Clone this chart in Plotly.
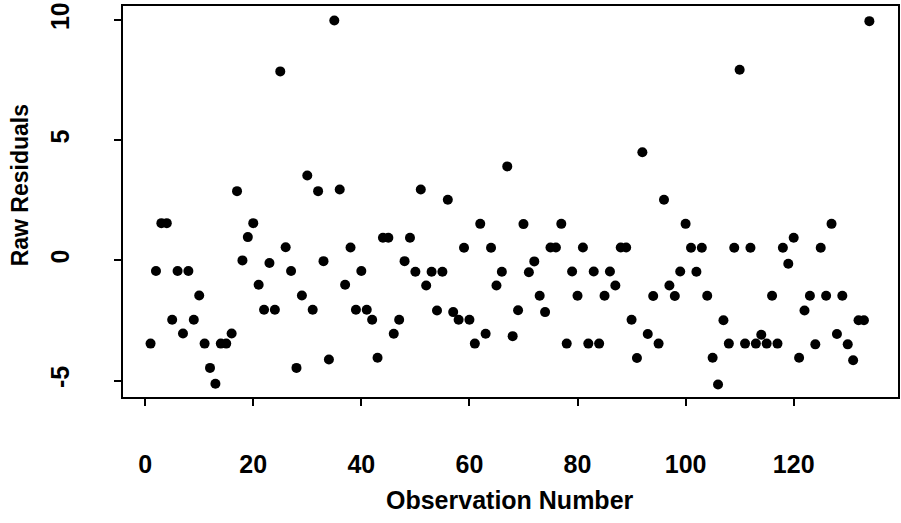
import plotly.graph_objects as go

# Residuals per observation (observation number = position, starting at 1)
residuals = [
    -3.46, -0.44, 1.55, 1.55, -2.47, -0.44, -3.04, -0.44, -2.47, -1.46,
    -3.46, -4.47, -5.13, -3.46, -3.46, -3.04, 2.88, 0.00, 0.97, 1.55,
    -1.01, -2.05, -0.11, -2.05, 7.86, 0.55, -0.44, -4.47, -1.46, 3.53,
    -2.05, 2.88, -0.03, -4.12, 9.98, 2.95, -1.01, 0.54, -2.05, -0.44,
    -2.05, -2.47, -4.05, 0.94, 0.94, -3.05, -2.47, -0.03, 0.94, -0.47,
    2.95, -1.04, -0.47, -2.08, -0.47, 2.52, -2.15, -2.47, 0.53, -2.47,
    -3.46, 1.52, -3.05, 0.53, -1.04, -0.47, 3.91, -3.15, -2.07, 1.51,
    -0.49, -0.04, -1.47, -2.15, 0.54, 0.54, 1.52, -3.46, -0.46, -1.47,
    0.54, -3.46, -0.46, -3.46, -1.47, -0.46, -1.04, 0.54, 0.54, -2.47,
    -4.06, 4.50, -3.06, -1.48, -3.46, 2.52, -1.04, -1.48, -0.46, 1.52,
    0.53, -0.47, 0.53, -1.47, -4.05, -5.16, -2.49, -3.46, 0.53, 7.93,
    -3.46, 0.53, -3.46, -3.09, -3.46, -1.47, -3.46, 0.53, -0.14, 0.94,
    -4.05, -2.08, -1.47, -3.49, 0.53, -1.47, 1.52, -3.06, -1.47, -3.49,
    -4.15, -2.49, -2.49, 9.95,
]
observation = list(range(1, len(residuals) + 1))

x_ticks = [0, 20, 40, 60, 80, 100, 120]
y_ticks = [-5, 0, 5, 10]

FONT = "Liberation Sans, Arial, Helvetica, sans-serif"

fig = go.Figure(
    go.Scatter(
        x=observation,
        y=residuals,
        mode="markers",
        marker=dict(color="black", size=10, line=dict(width=0)),
        hoverinfo="x+y",
    )
)

axis_common = dict(
    showgrid=False,
    zeroline=False,
    showline=True,
    linecolor="black",
    linewidth=2,
    mirror=True,
    ticks="outside",
    ticklen=7,
    tickwidth=2,
    tickcolor="black",
    tickfont=dict(family=FONT, size=25, color="black", weight="bold"),
)

fig.update_xaxes(
    range=[-4.1, 139.3],
    tickvals=x_ticks,
    ticktext=[str(v) for v in x_ticks],
    ticklabelstandoff=37,
    **axis_common,
)
fig.update_yaxes(
    range=[-5.68, 10.58],
    tickvals=y_ticks,
    ticktext=[str(v) for v in y_ticks],
    tickangle=-90,
    ticklabelstandoff=35,
    **axis_common,
)

fig.add_annotation(
    text="Observation Number",
    xref="paper", yref="paper",
    x=0.4994, y=-0.2634,
    xanchor="center", yanchor="middle",
    showarrow=False,
    font=dict(family=FONT, size=25, color="black", weight="bold"),
)
fig.add_annotation(
    text="Raw Residuals",
    xref="paper", yref="paper",
    x=-0.1326, y=0.542,
    xanchor="center", yanchor="middle",
    textangle=-90,
    showarrow=False,
    font=dict(family=FONT, size=23, color="black", weight="bold"),
)

fig.update_layout(
    width=901,
    height=523,
    margin=dict(l=123, r=1, t=6, b=126),
    paper_bgcolor="white",
    plot_bgcolor="white",
    showlegend=False,
)

fig.write_html("out.html")
